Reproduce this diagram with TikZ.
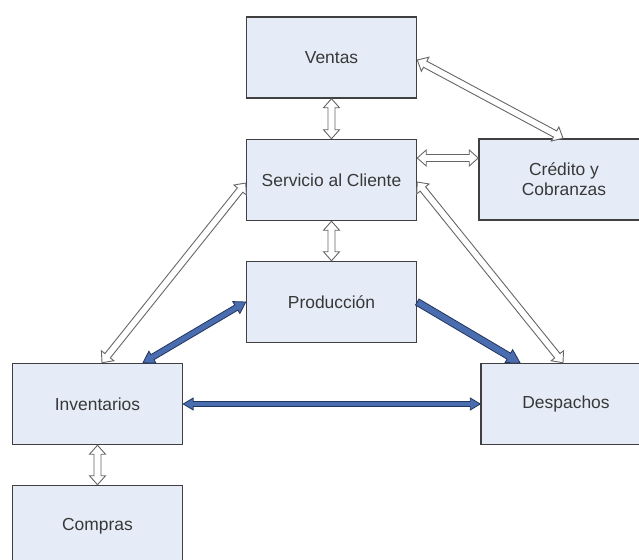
\documentclass[tikz,border=0pt]{standalone}
\usepackage{fontspec}
\setmainfont{Liberation Sans}
\usetikzlibrary{calc}

\definecolor{boxfill}{HTML}{E6ECF7}
\definecolor{boxline}{HTML}{404040}
\definecolor{flowblue}{HTML}{4A6DB0}
\definecolor{flowline}{HTML}{22355E}

\tikzset{
  area/.style={draw=boxline, line width=1.5bp, fill=boxfill, minimum width=170bp, minimum height=81bp,
    inner sep=0pt, font=\fontsize{17.5}{20}\selectfont, text=black!78, align=center},
  hollow/.style={draw=black!60, fill=white, line width=0.9bp, /utils/exec={\def\sw{3.5}\def\hw{8}\def\hl{9}}},
  flow/.style={draw=flowline, fill=flowblue, line width=0.8bp, /utils/exec={\def\sw{3}\def\hw{7}\def\hl{11}}},
}

% block arrow, head at both ends
\newcommand{\twoway}[3]{%
  \draw[#1] let \p1=(#2), \p2=(#3), \n1={atan2(\y2-\y1,\x2-\x1)}, \n2={veclen(\x2-\x1,\y2-\y1)} in
    [shift={(\p1)}, rotate=\n1]
    (0pt,0pt) -- (\hl pt,\hw pt) -- (\hl pt,\sw pt) -- ({\n2-\hl pt},\sw pt) -- ({\n2-\hl pt},\hw pt)
    -- (\n2,0pt) -- ({\n2-\hl pt},-\hw pt) -- ({\n2-\hl pt},-\sw pt) -- (\hl pt,-\sw pt) -- (\hl pt,-\hw pt) -- cycle;}

% block arrow, head at the end only
\newcommand{\oneway}[3]{%
  \draw[#1] let \p1=(#2), \p2=(#3), \n1={atan2(\y2-\y1,\x2-\x1)}, \n2={veclen(\x2-\x1,\y2-\y1)} in
    [shift={(\p1)}, rotate=\n1]
    (0pt,\sw pt) -- ({\n2-\hl pt},\sw pt) -- ({\n2-\hl pt},\hw pt)
    -- (\n2,0pt) -- ({\n2-\hl pt},-\hw pt) -- ({\n2-\hl pt},-\sw pt) -- (0pt,-\sw pt) -- cycle;}

\begin{document}
\begin{tikzpicture}[x=1bp, y=-1bp]
  \useasboundingbox (0,0) rectangle (639,560);

  % Boxes
  \node[area] (ventas)     at (331.5,57.5)  {Ventas};
  \node[area] (servicio)   at (331.5,180)   {Servicio al Cliente};
  \node[area] (credito)    at (564,179.5)   {Crédito y\\Cobranzas};
  \node[area] (produccion) at (331.5,302)   {Producción};
  \node[area] (inventarios) at (97.5,404)   {Inventarios};
  \node[area] (despachos)  at (566,404)     {Despachos};
  \node[area] (compras)    at (97.5,526)    {Compras};

  % Information flows
  \twoway{hollow}{ventas.south}{servicio.north}
  \twoway{hollow}{$(ventas.east)+(0,2.5)$}{$(credito.north)+(-1,0)$}
  \twoway{hollow}{$(servicio.east)+(0,-22)$}{$(credito.west)+(0,-21.5)$}
  \twoway{hollow}{servicio.south}{produccion.north}
  \twoway{hollow}{$(servicio.west)+(0,3)$}{$(inventarios.north)+(4.5,0)$}
  \twoway{hollow}{$(servicio.east)+(0,2)$}{$(despachos.north)+(-3,0)$}
  \twoway{hollow}{inventarios.south}{compras.north}

  % Material flows
  \twoway{flow}{produccion.west}{$(inventarios.north)+(45.5,0)$}
  \oneway{flow, /utils/exec={\def\sw{3.5}\def\hw{7.5}\def\hl{13}}}{produccion.east}{$(despachos.north)+(-46,0)$}
  \twoway{flow, /utils/exec={\def\sw{2.5}\def\hw{6}\def\hl{10}}}{inventarios.east}{despachos.west}
\end{tikzpicture}
\end{document}
